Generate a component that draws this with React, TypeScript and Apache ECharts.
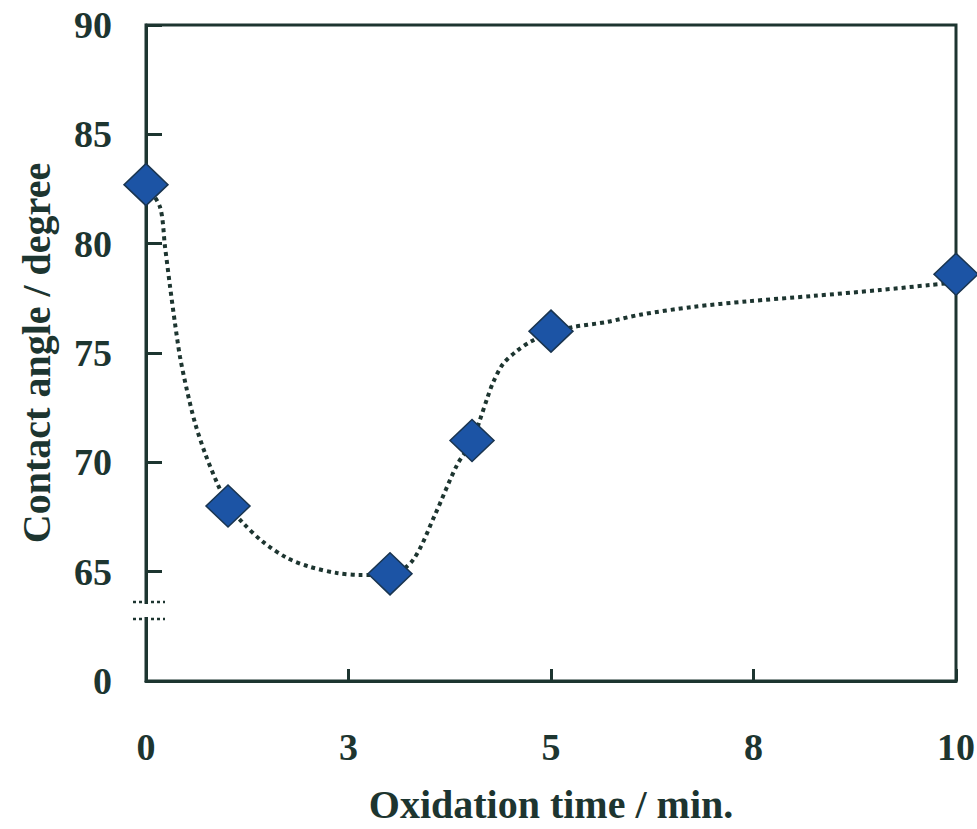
import React, { useEffect, useRef } from 'react';
import * as echarts from 'echarts';

// x axis positions are equally spaced tick slots labelled 0, 3, 5, 8, 10
const xTickLabels = ['0', '3', '5', '8', '10'];
// y axis is broken: bottom tick (slot 60) is labelled 0
const yTickValues = [60, 65, 70, 75, 80, 85, 90];
const yTickLabels = ['0', '65', '70', '75', '80', '85', '90'];

// measured points
const pointX = [0, 0.405, 1.205, 1.61, 2.0, 4];
const pointY = [82.7, 68.0, 64.9, 71.0, 76.0, 78.6];

// dotted trend curve
const curveX = [0, 0.069, 0.094, 0.119, 0.143, 0.168, 0.202, 0.242, 0.291, 0.351, 0.405, 0.479, 0.578, 0.696, 0.81, 0.943, 1.057, 1.205, 1.319, 1.427, 1.536, 1.61, 1.649, 1.684, 1.714, 1.763, 1.832, 1.896, 1.995, 2.109, 2.277, 2.44, 2.701, 2.968, 3.294, 3.625, 3.872, 3.97];
const curveY = [82.7, 81.68, 79.85, 78.02, 76.37, 74.82, 73.31, 71.8, 70.43, 69.06, 68.05, 67.23, 66.36, 65.63, 65.22, 64.94, 64.85, 64.85, 65.54, 67.6, 69.88, 70.93, 71.94, 72.9, 73.65, 74.5, 75.1, 75.5, 75.92, 76.19, 76.42, 76.75, 77.11, 77.36, 77.61, 77.88, 78.11, 78.2];

const INK = '#1d3530';
const FONT = '"Liberation Serif", "Times New Roman", serif';

export default function App() {
  const ref = useRef<HTMLDivElement>(null);
  useEffect(() => {
    if (!ref.current) return;
    const chart = echarts.init(ref.current, null, { renderer: 'svg' });
    const labelMap: Record<number, string> = {};
    yTickValues.forEach((v, i) => (labelMap[v] = yTickLabels[i]));
    chart.setOption({
      animation: false,
      backgroundColor: '#ffffff',
      grid: {
        left: 146,
        right: 21,
        top: 25,
        bottom: 148,
        show: true,
        borderColor: INK,
        borderWidth: 3,
        backgroundColor: 'transparent',
        outerBoundsMode: 'none',
        containLabel: false,
      },
      xAxis: {
        type: 'value',
        min: 0,
        max: 4,
        interval: 1,
        name: 'Oxidation time / min.',
        nameLocation: 'middle',
        nameGap: 103,
        nameTextStyle: { color: INK, fontFamily: FONT, fontWeight: 'bold', fontSize: 40 },
        axisLine: { show: true, lineStyle: { color: INK, width: 3 } },
        axisTick: { show: true, inside: true, length: 12, lineStyle: { color: INK, width: 3 } },
        axisLabel: {
          margin: 47,
          color: INK,
          fontFamily: FONT,
          fontWeight: 'bold',
          fontSize: 38,
          formatter: (v: number) => xTickLabels[Math.round(v)] ?? '',
        },
        splitLine: { show: false },
      },
      yAxis: {
        type: 'value',
        min: 60,
        max: 90,
        interval: 5,
        name: 'Contact angle / degree',
        nameLocation: 'middle',
        nameGap: 90,
        nameTextStyle: { color: INK, fontFamily: FONT, fontWeight: 'bold', fontSize: 40 },
        axisLine: { show: true, lineStyle: { color: INK, width: 3 } },
        axisTick: { show: true, inside: true, length: 16, lineStyle: { color: INK, width: 3 } },
        axisLabel: {
          margin: 34,
          color: INK,
          fontFamily: FONT,
          fontWeight: 'bold',
          fontSize: 38,
          formatter: (v: number) => labelMap[v] ?? '',
        },
        splitLine: { show: false },
      },
      series: [
        {
          type: 'line',
          data: curveX.map((x, i) => [x, curveY[i]]),
          smooth: 0.3,
          showSymbol: false,
          symbol: 'none',
          lineStyle: { color: INK, width: 4, type: [4, 4], cap: 'butt' },
          z: 2,
        },
        {
          type: 'scatter',
          data: pointX.map((x, i) => [x, pointY[i]]),
          symbol: 'diamond',
          symbolSize: [44, 42],
          clip: false,
          itemStyle: { color: '#1c54a5', borderColor: '#1a3550', borderWidth: 1.5, opacity: 1 },
          z: 3,
        },
      ],
      graphic: [
        { type: 'rect', shape: { x: 138, y: 604, width: 16, height: 13 }, style: { fill: '#ffffff' }, z: 100 },
        { type: 'line', shape: { x1: 133, y1: 602, x2: 165, y2: 602 }, style: { stroke: INK, lineWidth: 2.5, lineDash: [3, 3] }, z: 101 },
        { type: 'line', shape: { x1: 133, y1: 619, x2: 165, y2: 619 }, style: { stroke: INK, lineWidth: 2.5, lineDash: [3, 3] }, z: 101 },
      ],
    });
    return () => chart.dispose();
  }, []);
  return (
    <div
      ref={ref}
      style={{ position: 'fixed', left: 0, top: 0, width: 977, height: 829, background: '#fff' }}
    />
  );
}
